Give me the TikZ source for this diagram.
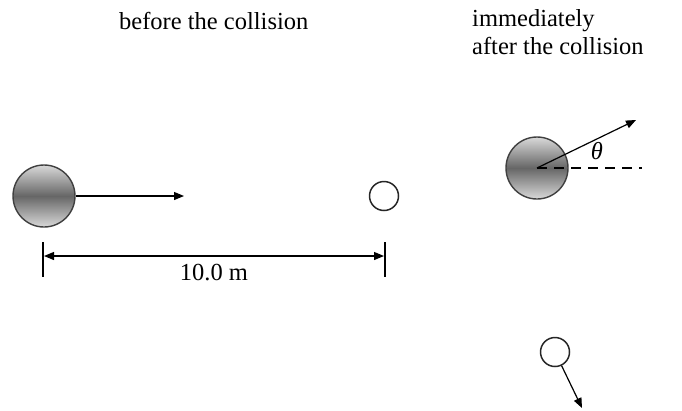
\documentclass[tikz,border=0pt]{standalone}
\usepackage{fontspec}
\setmainfont{Liberation Serif}
\usetikzlibrary{arrows.meta}
\begin{document}
\begin{tikzpicture}[x=1pt,y=-1pt,
  ball/.style={circle,draw=black!75,line width=1.4pt,inner sep=0pt,minimum size=62pt,
    top color=gray!30,bottom color=gray!30,middle color=black!60},
  small/.style={circle,draw=black!85,line width=1.5pt,inner sep=0pt,minimum size=29pt,fill=white},
  arr/.style={line width=1.2pt,-{Triangle[length=10pt,width=8pt]}},
  lbl/.style={font=\fontsize{24.5}{27}\selectfont,inner sep=0pt}]
\useasboundingbox (0,0) rectangle (682,410);
\node[lbl,anchor=west] (t1) at (119,21) {before the collision};
\node[lbl,anchor=west] (t2) at (472,21) {immediately};
\node[lbl,anchor=west] (t3) at (472,46) {after the collision};

\node[ball] (bigA) at (44,196) {};
\node[small] (smallA) at (384,196) {};
\coordinate (vA) at (184,196);
\draw[arr] (bigA.east) -- (vA);

\coordinate (tLt) at (43,242);
\coordinate (tLb) at (43,277);
\coordinate (tRt) at (385,242);
\coordinate (tRb) at (385,277);
\draw[line width=1.2pt] (tLt) -- (tLb);
\draw[line width=1.2pt] (tRt) -- (tRb);
\coordinate (dL) at (44,256);
\coordinate (dR) at (384,256);
\draw[line width=1.2pt,{Triangle[length=10pt,width=8pt]}-{Triangle[length=10pt,width=8pt]}] (dL) -- (dR);
\node[lbl] (dist) at (214,273) {10.0 m};

\node[ball] (bigB) at (537,168) {};
\coordinate (vB) at (636,120);
\coordinate (hB) at (642,168);
\draw[line width=1.2pt,dash pattern=on 10pt off 7pt] (bigB.center) -- (hB);
\draw[arr] (bigB.center) -- (vB);
\node[lbl] (th) at (597,151) {\itshape θ};

\node[small] (smallB) at (555,352) {};
\coordinate (vC) at (582,408);
\draw[arr] (smallB) -- (vC);
\end{tikzpicture}
\end{document}
